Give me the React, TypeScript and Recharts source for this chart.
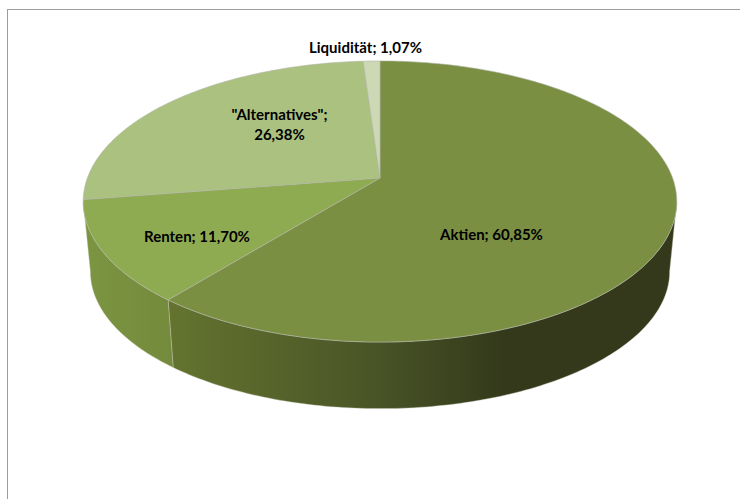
import { PieChart, Pie } from 'recharts';

const names = ['Aktien', 'Renten', '"Alternatives"', 'Liquidität'];
const shares = [60.85, 11.7, 26.38, 1.07];
const topColors = ['#7a8f42', '#8fab52', '#abc17f', '#cdd9b5'];

const tableData = names.map((name, i) => ({ name, value: shares[i], fill: topColors[i] }));

// perspective of the tilted disc
const TILT = 0.1673;
const SQUASH = 0.4669;
const DROP = 70.5;
const SHRINK = 0.976;

const project = (cx: number, cy: number, r: number, clockDeg: number, scale = 1, dy = 0) => {
  const t = (clockDeg * Math.PI) / 180;
  const u = Math.sin(t);
  const v = -Math.cos(t);
  const den = 1 - TILT * v;
  return [cx + (scale * r * u) / den, cy + dy + (scale * r * SQUASH * v) / den];
};

const rim = (from: number, to: number) => {
  const out: number[] = [];
  const steps = Math.max(2, Math.ceil(Math.abs(to - from)));
  for (let i = 0; i <= steps; i++) out.push(from + ((to - from) * i) / steps);
  return out;
};

const toPath = (pts: number[][]) => 'M' + pts.map((p) => p[0].toFixed(2) + ',' + p[1].toFixed(2)).join('L') + 'Z';

const sideFills = ['url(#sideAktien)', 'url(#sideRenten)'];
// only the front of the wall can be seen
const FRONT_FROM = 99.6;
const FRONT_TO = 260.4;

const DiscSlice = (props: any) => {
  const { cx, cy, outerRadius, startAngle, endAngle, fill, index } = props;
  const a = 90 - startAngle;
  const b = 90 - endAngle;
  const top = rim(a, b).map((d) => project(cx, cy, outerRadius, d));
  const from = Math.max(a, FRONT_FROM);
  const to = Math.min(b, FRONT_TO);
  let wall = null;
  if (to > from) {
    const upper = rim(from, to).map((d) => project(cx, cy, outerRadius, d));
    const lower = rim(to, from).map((d) => project(cx, cy, outerRadius, d, SHRINK, DROP));
    wall = <path d={toPath([...upper, ...lower])} fill={sideFills[index] || fill} stroke="#c4c8b8" strokeWidth={0.4} />;
  }
  return (
    <g>
      {wall}
      <path d={toPath([[cx, cy], ...top])} fill={fill} stroke="#b0b4a6" strokeWidth={0.6} />
    </g>
  );
};

const labelSpots = [
  [491.5, 240],
  [197, 241.5],
  [279.5, 120],
  [365.5, 53],
];

const SliceLabel = (props: any) => {
  const { index, name, value } = props;
  const [x, y] = labelSpots[index];
  const pct = value.toFixed(2).replace('.', ',') + '%';
  const style = { fontFamily: 'Lato, sans-serif', fontSize: 15, fontWeight: 700, fill: '#000' };
  if (index === 2) {
    return (
      <text x={x} y={y} textAnchor="middle" style={style}>
        <tspan x={x}>{name};</tspan>
        <tspan x={x} dy={20}>{pct}</tspan>
      </text>
    );
  }
  return (
    <text x={x} y={y} textAnchor="middle" style={style}>
      {name}; {pct}
    </text>
  );
};

export default function App() {
  return (
    <div style={{ position: 'absolute', left: 0, top: 0, width: 740, height: 499, overflow: 'hidden', background: '#fff' }}>
      <div style={{ position: 'absolute', left: 7, top: 9, width: 733, height: 490, borderLeft: '1px solid #9c9c9c', borderTop: '1px solid #9c9c9c' }} />
      <div style={{ position: 'absolute', left: 0, top: 0 }}>
        <PieChart width={740} height={499} margin={{ top: 0, right: 0, bottom: 0, left: 0 }}>
          <defs>
            <linearGradient id="sideAktien" gradientUnits="userSpaceOnUse" x1={168} y1={0} x2={505} y2={0}>
              <stop offset="0" stopColor="#64742f" />
              <stop offset="0.6" stopColor="#4a5527" />
              <stop offset="1" stopColor="#33391a" />
            </linearGradient>
            <linearGradient id="sideRenten" gradientUnits="userSpaceOnUse" x1={85} y1={0} x2={172} y2={0}>
              <stop offset="0" stopColor="#7b9541" />
              <stop offset="1" stopColor="#748a3c" />
            </linearGradient>
          </defs>
          <Pie
            data={tableData}
            dataKey="value"
            nameKey="name"
            cx={380}
            cy={178}
            innerRadius={0}
            outerRadius={292.6}
            startAngle={90}
            endAngle={-270}
            stroke="none"
            shape={DiscSlice}
            label={SliceLabel}
            labelLine={false}
            isAnimationActive={false}
          />
        </PieChart>
      </div>
    </div>
  );
}
